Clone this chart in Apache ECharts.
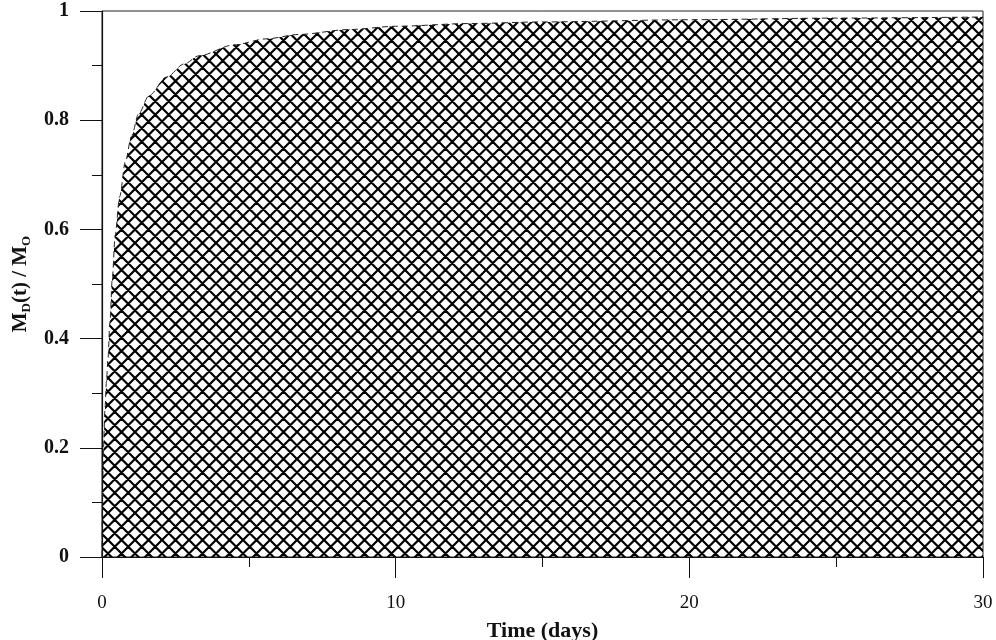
<!DOCTYPE html>
<html>
<head>
<meta charset="utf-8">
<script src="https://cdn.jsdelivr.net/npm/echarts@6/dist/echarts.min.js"></script>
<style>
  html, body { margin: 0; padding: 0; background: #fff; }
  #chart { width: 996px; height: 640px; }
</style>
</head>
<body>
<div id="chart"></div>
<script>
// Dissolved mass fraction versus time
const timeDays = [0, 0.02, 0.05, 0.1, 0.15, 0.2, 0.27, 0.35, 0.45, 0.6, 0.8, 1.0, 1.25, 1.6, 2.2, 2.8, 3.3, 4.5, 5.6, 6.7, 8.4, 10, 12.5, 15, 20, 25, 30];
const massFraction = [0, 0.13, 0.2, 0.27, 0.32, 0.36, 0.43, 0.51, 0.59, 0.66, 0.725, 0.77, 0.812, 0.845, 0.879, 0.903, 0.918, 0.938, 0.949, 0.957, 0.966, 0.972, 0.977, 0.980, 0.984, 0.987, 0.989];
const xTicks = [0, 10, 20, 30];
const yTicks = [0, 0.2, 0.4, 0.6, 0.8, 1];

// Cross-hatch tile: two diamond periods per 27px square
function makeHatch() {
  const size = 27, step = 13.5;
  const c = document.createElement('canvas');
  c.width = size; c.height = size;
  const ctx = c.getContext('2d');
  ctx.strokeStyle = '#000';
  ctx.lineWidth = 2.2;
  ctx.beginPath();
  for (let k = -4; k <= 4; k++) {
    const o = k * step;
    ctx.moveTo(o - 2, -2); ctx.lineTo(o + size + 2, size + 2);
    ctx.moveTo(o - 2, size + 2); ctx.lineTo(o + size + 2, -2);
  }
  ctx.stroke();
  return c;
}

const serif = '"Liberation Serif", "Times New Roman", serif';
const chart = echarts.init(document.getElementById('chart'));
chart.setOption({
  animation: false,
  backgroundColor: '#fff',
  grid: {
    left: 102, right: 13, top: 11, bottom: 83,
    outerBoundsMode: 'none', containLabel: false,
    show: true, borderColor: '#222', borderWidth: 1
  },
  xAxis: {
    type: 'value', min: xTicks[0], max: xTicks[xTicks.length - 1], interval: 10,
    axisLine: { lineStyle: { color: '#111', width: 1.2 } },
    axisTick: { inside: false, length: 21, lineStyle: { color: '#111', width: 1 } },
    minorTick: { show: true, splitNumber: 2, length: 10, lineStyle: { color: '#111', width: 1 } },
    splitLine: { show: false },
    axisLabel: { margin: 37, color: '#111', fontFamily: serif, fontSize: 19 },
    name: 'Time (days)', nameLocation: 'middle', nameGap: 63,
    nameTextStyle: { color: '#111', fontFamily: serif, fontSize: 22, fontWeight: 'bold' }
  },
  yAxis: {
    type: 'value', min: yTicks[0], max: yTicks[yTicks.length - 1], interval: 0.2,
    axisLine: { lineStyle: { color: '#111', width: 1.2 } },
    axisTick: { inside: false, length: 22, lineStyle: { color: '#111', width: 1 } },
    minorTick: { show: true, splitNumber: 2, length: 10, lineStyle: { color: '#111', width: 1 } },
    splitLine: { show: false },
    axisLabel: { margin: 33, color: '#111', fontFamily: serif, fontSize: 20, fontWeight: 'bold' },
    name: '{m|M}{s|D}{m|(t) / M}{s|O}', nameLocation: 'middle', nameGap: 66, nameRotate: 90,
    nameTextStyle: {
      color: '#111', fontFamily: serif, fontSize: 21, fontWeight: 'bold',
      rich: {
        m: { fontFamily: serif, fontSize: 21, fontWeight: 'bold', color: '#111', lineHeight: 26, verticalAlign: 'middle' },
        s: { fontFamily: serif, fontSize: 13, fontWeight: 'bold', color: '#111', lineHeight: 13, verticalAlign: 'bottom' }
      }
    }
  },
  series: [{
    type: 'line',
    data: timeDays.map((t, i) => [t, massFraction[i]]),
    smooth: 0.3,
    smoothMonotone: 'x',
    symbol: 'none',
    lineStyle: { color: '#222', width: 1, type: [6, 4] },
    areaStyle: { color: { image: makeHatch(), repeat: 'repeat' }, opacity: 1 }
  }]
});
</script>
</body>
</html>
